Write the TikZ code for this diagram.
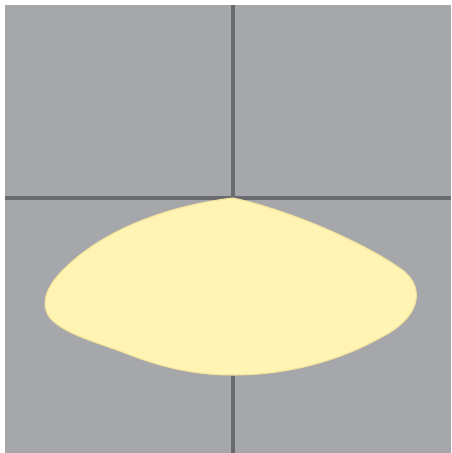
\documentclass[tikz,border=0pt]{standalone}
\usepackage{tikz}
\usetikzlibrary{positioning,calc}
\definecolor{panel}{HTML}{A6A7AB}
\definecolor{axisline}{HTML}{6A6B70}
\definecolor{lensfill}{HTML}{FFF4B4}
\definecolor{lensedge}{HTML}{F2E29A}
\tikzset{
  axis/.style={draw=axisline,line width=1.9pt},
  lens/.style={fill=lensfill,draw=lensedge,line width=0.6pt}
}
\begin{document}
\begin{tikzpicture}[x=0.02cm,y=-0.02cm]
  \useasboundingbox (0,0) rectangle (451,453);
  \fill[white] (0,0) rectangle (451,453);
  \fill[panel] (5,5) rectangle (451,453);

  \coordinate (O) at (233,198);
  \draw[axis] (233,5) -- (233,453);
  \draw[axis] (5,198) -- (451,198);

  % lens shape
  \path[lens] (O) .. controls (180,204) and (110,224) .. (65,268)
    .. controls (45,287) and (40,305) .. (50,318)
    .. controls (65,335) and (100,343) .. (130,355)
    .. controls (170,370) and (200,375) .. (233,375)
    .. controls (290,375) and (340,360) .. (380,338)
    .. controls (420,318) and (425,290) .. (405,272)
    .. controls (370,245) and (290,210) .. (O) -- cycle;
\end{tikzpicture}
\end{document}
